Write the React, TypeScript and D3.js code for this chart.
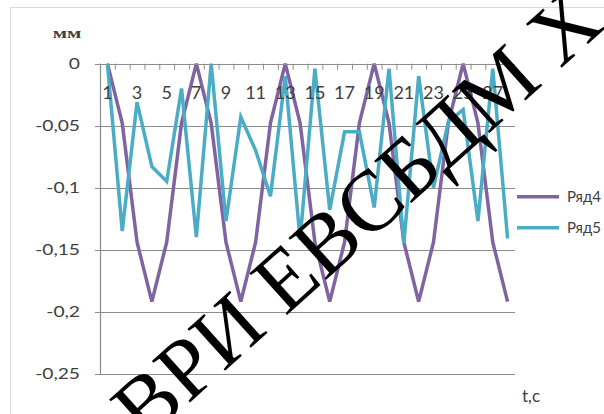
import React, { useEffect, useRef } from 'react';
import * as d3 from 'd3';

const categories = d3.range(1, 29).map(String);
const tickLabels = ['0', '-0,05', '-0,1', '-0,15', '-0,2', '-0,25'];
const tickValues = [0, -0.05, -0.1, -0.15, -0.2, -0.25];

const ryad4 = [
  0, -0.048, -0.144, -0.192, -0.144, -0.048,
  0, -0.048, -0.144, -0.192, -0.144, -0.048,
  0, -0.048, -0.144, -0.192, -0.144, -0.048,
  0, -0.048, -0.144, -0.192, -0.144, -0.048,
  0, -0.048, -0.144, -0.192,
];

const ryad5 = [
  0, -0.135, -0.031, -0.083, -0.095, -0.02, -0.14,
  0, -0.127, -0.043, -0.07, -0.107, -0.01, -0.142,
  -0.004, -0.118, -0.055, -0.055, -0.116, -0.004, -0.145,
  -0.01, -0.1, -0.047, -0.037, -0.127, -0.004, -0.141,
];

const series = [
  { name: 'Ряд4', values: ryad4, color: '#8064A2' },
  { name: 'Ряд5', values: ryad5, color: '#4BACC6' },
];

const watermark = 'ВРИ ЕВСБДМ Х';

const W = 604;
const H = 414;

const Chart = () => {
  const ref = useRef<SVGSVGElement>(null);

  useEffect(() => {
    const svg = d3.select(ref.current);
    svg.selectAll('*').remove();

    const left = 100;
    const right = 515;
    const top = 63.7;
    const bottom = 373.5;

    // chart frame
    svg
      .append('rect')
      .attr('x', 10.5)
      .attr('y', 7.5)
      .attr('width', 620)
      .attr('height', 440)
      .attr('fill', 'white')
      .attr('stroke', '#d9d9d9');

    const x = d3.scaleBand().domain(categories).range([left, right]);
    const y = d3.scaleLinear().domain([-0.25, 0]).range([bottom, top]);

    // gridlines + y ticks
    svg
      .append('g')
      .selectAll('line')
      .data(tickValues.slice(1))
      .enter()
      .append('line')
      .attr('x1', left - 5)
      .attr('x2', right)
      .attr('y1', d => Math.round(y(d)) + 0.5)
      .attr('y2', d => Math.round(y(d)) + 0.5)
      .attr('stroke', '#8c8c8c')
      .attr('stroke-width', 1.2);

    // y axis line
    svg
      .append('line')
      .attr('x1', left + 0.5)
      .attr('x2', left + 0.5)
      .attr('y1', top)
      .attr('y2', bottom + 1)
      .attr('stroke', '#8c8c8c')
      .attr('stroke-width', 1.2);

    // y labels
    svg
      .append('g')
      .selectAll('text')
      .data(tickValues)
      .enter()
      .append('text')
      .attr('transform', d => `translate(80,${y(d) + 5.5}) scale(1.2,1)`)
      .attr('text-anchor', 'end')
      .attr('font-family', 'Lato, sans-serif')
      .attr('font-size', 16)
      .attr('fill', '#404040')
      .text((d, i) => tickLabels[i]);

    // series lines
    const line = d3
      .line<number>()
      .x((d, i) => (x(categories[i]) as number) + x.bandwidth() / 2)
      .y(d => y(d));

    series.forEach(s => {
      svg
        .append('path')
        .datum(s.values)
        .attr('fill', 'none')
        .attr('stroke', s.color)
        .attr('stroke-width', 3.5)
        .attr('stroke-linejoin', 'miter')
        .attr('d', line);
    });

    // x axis at zero with ticks between categories
    svg
      .append('line')
      .attr('x1', left - 5)
      .attr('x2', right)
      .attr('y1', Math.round(y(0)) + 0.5)
      .attr('y2', Math.round(y(0)) + 0.5)
      .attr('stroke', '#8c8c8c')
      .attr('stroke-width', 1.2);

    svg
      .append('g')
      .selectAll('line')
      .data(categories)
      .enter()
      .append('line')
      .attr('x1', d => (x(d) as number) + 0.5)
      .attr('x2', d => (x(d) as number) + 0.5)
      .attr('y1', y(0))
      .attr('y2', y(0) + 6)
      .attr('stroke', '#8c8c8c');

    svg
      .append('g')
      .selectAll('text')
      .data(categories.filter((d, i) => i % 2 === 0))
      .enter()
      .append('text')
      .attr('x', d => (x(d) as number) + x.bandwidth() / 2)
      .attr('y', 99)
      .attr('text-anchor', 'middle')
      .attr('font-family', 'Lato, sans-serif')
      .attr('font-size', 18)
      .attr('fill', '#404040')
      .text(d => d);

    // axis titles
    svg
      .append('text')
      .attr('transform', 'translate(67,38) scale(1.5,1)')
      .attr('text-anchor', 'middle')
      .attr('font-family', '"Liberation Serif", serif')
      .attr('font-weight', 'bold')
      .attr('font-size', 14)
      .attr('fill', '#404040')
      .text('мм');

    svg
      .append('text')
      .attr('x', 522)
      .attr('y', 402)
      .attr('font-family', 'Lato, sans-serif')
      .attr('font-size', 17)
      .attr('fill', '#404040')
      .text('t,c');

    // legend
    const legend = svg
      .append('g')
      .selectAll('g')
      .data(series)
      .enter()
      .append('g')
      .attr('transform', (d, i) => `translate(517,${196.7 + i * 31})`);

    legend
      .append('line')
      .attr('x1', 0)
      .attr('x2', 42)
      .attr('stroke', d => d.color)
      .attr('stroke-width', 3.5);

    legend
      .append('text')
      .attr('x', 50)
      .attr('y', 5)
      .attr('font-family', 'Lato, sans-serif')
      .attr('font-size', 15)
      .attr('fill', '#404040')
      .text(d => d.name);

    // watermark
    svg
      .append('text')
      .attr('transform', 'translate(145,443) rotate(-42)')
      .attr('font-family', '"Liberation Serif", serif')
      .attr('font-size', 86)
      .attr('fill', 'black')
      .text(watermark);
  }, []);

  return (
    <svg
      ref={ref}
      width={W}
      height={H}
      style={{ position: 'absolute', left: 0, top: 0, background: 'white' }}
    />
  );
};

export default function App() {
  return <Chart />;
}
